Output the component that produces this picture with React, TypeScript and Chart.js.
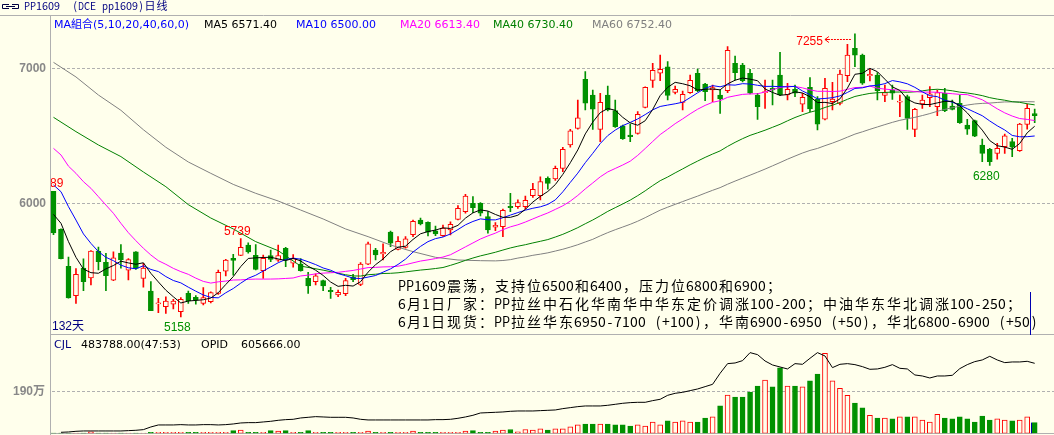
import React, { useEffect, useRef } from "react";
import { Chart, registerables } from "chart.js";

Chart.register(...registerables);

// ---------- data ----------
const opens = [
  6089, 5807, 5533, 5316, 5520, 5447, 5647, 5563, 5430, 5632,
  5505, 5640, 5444, 5350, 5255, 5234, 5252, 5197, 5333, 5303,
  5259, 5271, 5333, 5497, 5593, 5614, 5691, 5615, 5501, 5612,
  5578, 5667, 5556, 5550, 5444, 5420, 5427, 5355, 5321, 5330,
  5454, 5400, 5550, 5654, 5625, 5787, 5659, 5674, 5768, 5876,
  5859, 5797, 5760, 5802, 5881, 5938, 6000, 6000, 5901, 5824,
  5827, 5978, 5975, 5975, 6057, 6057, 6185, 6180, 6259, 6432,
  6555, 6918, 6802, 6548, 6802, 6686, 6573, 6506, 6518, 6711,
  6911, 6963, 7010, 6822, 6748, 6819, 6963, 6884, 6840, 6802,
  6834, 7037, 7024, 6963, 6802, 6820, 6851, 6950, 6802, 6844,
  6735, 6859, 6770, 6624, 6753, 6740, 6945, 7148, 7098, 6945,
  6950, 6800, 6839, 6750, 6790, 6548, 6736, 6783, 6716, 6815,
  6721, 6741, 6580, 6612, 6432, 6400, 6370, 6420, 6457, 6390,
  6585, 6665,
];
const highs = [
  6089, 5810, 5602, 5516, 5588, 5650, 5675, 5630, 5640, 5695,
  5590, 5642, 5556, 5420, 5296, 5308, 5289, 5301, 5350, 5316,
  5375, 5345, 5506, 5585, 5622, 5739, 5708, 5695, 5617, 5654,
  5691, 5674, 5620, 5590, 5489, 5477, 5432, 5378, 5358, 5444,
  5474, 5560, 5713, 5667, 5699, 5795, 5753, 5753, 5875, 5891,
  5862, 5832, 5839, 5862, 5983, 6066, 6049, 6005, 5938, 5857,
  5958, 6074, 6025, 6054, 6148, 6197, 6197, 6276, 6415, 6548,
  6765, 6975, 6839, 6815, 6869, 6765, 6580, 6587, 6679, 6862,
  7037, 7098, 7049, 6869, 6832, 6950, 6995, 6889, 6876, 6839,
  7160, 7091, 7037, 6992, 6815, 6913, 6913, 7118, 6889, 6876,
  6815, 6931, 6790, 6926, 6896, 6987, 7178, 7255, 7105, 6992,
  6968, 6876, 6876, 6802, 6802, 6703, 6802, 6864, 6839, 6852,
  6765, 6802, 6622, 6617, 6476, 6407, 6444, 6513, 6481, 6592,
  6735, 6698,
];
const lows = [
  5768, 5588, 5298, 5259, 5353, 5395, 5506, 5353, 5427, 5520,
  5432, 5510, 5378, 5205, 5190, 5185, 5217, 5158, 5259, 5252,
  5247, 5262, 5326, 5462, 5468, 5612, 5630, 5506, 5444, 5568,
  5570, 5531, 5526, 5498, 5333, 5395, 5353, 5296, 5308, 5316,
  5420, 5390, 5545, 5580, 5580, 5679, 5654, 5667, 5753, 5839,
  5758, 5760, 5755, 5765, 5876, 5926, 5931, 5906, 5778, 5797,
  5753, 5938, 5963, 5958, 6044, 6025, 6104, 6170, 6234, 6415,
  6550, 6691, 6548, 6457, 6684, 6563, 6474, 6457, 6513, 6706,
  6859, 6908, 6765, 6810, 6691, 6814, 6827, 6760, 6753, 6666,
  6820, 6913, 6900, 6810, 6622, 6703, 6728, 6797, 6765, 6790,
  6679, 6679, 6543, 6617, 6691, 6728, 6901, 7012, 6880, 6906,
  6765, 6753, 6770, 6642, 6548, 6494, 6703, 6716, 6649, 6679,
  6691, 6592, 6511, 6494, 6308, 6280, 6326, 6370, 6345, 6385,
  6550, 6597,
];
const closes = [
  5780, 5590, 5300, 5474, 5420, 5647, 5568, 5464, 5597, 5580,
  5583, 5518, 5520, 5205, 5262, 5276, 5276, 5289, 5278, 5284,
  5301, 5338, 5489, 5580, 5576, 5674, 5639, 5511, 5593, 5585,
  5612, 5580, 5590, 5501, 5388, 5462, 5388, 5345, 5341, 5427,
  5434, 5550, 5699, 5617, 5637, 5704, 5718, 5736, 5866, 5847,
  5787, 5773, 5817, 5844, 5963, 6054, 5968, 5926, 5802, 5837,
  5948, 5967, 6005, 6022, 6104, 6160, 6148, 6259, 6400, 6536,
  6634, 6741, 6698, 6748, 6691, 6568, 6479, 6494, 6659, 6859,
  6985, 6992, 6800, 6844, 6807, 6911, 6834, 6827, 6857, 6773,
  7133, 6968, 6908, 6815, 6716, 6827, 6840, 6802, 6844, 6815,
  6785, 6699, 6587, 6852, 6772, 6958, 7098, 7098, 6889, 6955,
  6834, 6820, 6815, 6756, 6629, 6696, 6765, 6810, 6820, 6686,
  6696, 6597, 6550, 6498, 6370, 6308, 6407, 6499, 6415, 6587,
  6703, 6650,
];
const volumes = [
  10000, 10000, 10000, 10000, 10000, 70000, 10000, 10000, 10000, 10000,
  10000, 10000, 10000, 45000, 45000, 45000, 45000, 45000, 45000, 45000,
  45000, 45000, 45000, 45000, 120000, 150000, 45000, 45000, 45000, 120000,
  100000, 120000, 45000, 45000, 120000, 45000, 45000, 45000, 45000, 45000,
  45000, 45000, 100000, 45000, 45000, 45000, 45000, 45000, 100000, 45000,
  45000, 45000, 45000, 45000, 45000, 100000, 120000, 45000, 45000, 100000,
  150000, 170000, 70000, 170000, 150000, 200000, 150000, 200000, 200000, 290000,
  380000, 420000, 420000, 420000, 420000, 380000, 380000, 330000, 380000, 330000,
  510000, 380000, 560000, 510000, 560000, 510000, 510000, 690000, 740000, 1240000,
  1730000, 1640000, 1640000, 1870000, 2140000, 2410000, 2100000, 2960000, 2140000, 2140000,
  2100000, 2370000, 2680000, 3620000, 2370000, 2040000, 1720000, 1370000, 1150000, 810000,
  690000, 690000, 650000, 740000, 740000, 740000, 600000, 510000, 860000, 690000,
  650000, 740000, 650000, 510000, 780000, 600000, 650000, 600000, 560000, 600000,
  740000, 483788,
];
const openInterest = [
  null, 8650, 11500, 17300, 20200, 20200, 20200, 20200, 20200, 20200,
  23100, 26000, 31700, 54800, 72100, 72100, 72100, 75000, 72100, 72100,
  75000, 75000, 72100, 75000, 80800, 89400, 92300, 92300, 98100, 103800,
  112500, 118200, 121100, 132700, 138400, 144200, 141300, 138400, 138400, 138400,
  132700, 121100, 115400, 115400, 115400, 115400, 115400, 115400, 115400, 115400,
  115400, 118200, 118200, 121100, 129800, 141300, 155700, 175900, 178800, 181700,
  184600, 190300, 193200, 193200, 193200, 196100, 199000, 201900, 213400, 222100,
  230700, 236500, 236500, 236500, 242300, 250900, 259600, 265300, 268200, 268200,
  282600, 294200, 328800, 346100, 354700, 369200, 383600, 403800, 423900, 519100,
  602800, 608500, 628700, 697900, 680600, 625800, 591200, 573900, 556600, 602800,
  597000, 648900, 697900, 669100, 568100, 597000, 602800, 594100, 576800, 553700,
  556600, 571000, 594100, 562400, 556600, 504700, 496000, 478700, 496000, 496000,
  501800, 559500, 594100, 620100, 634500, 666200, 634500, 611400, 617200, 617200,
  622900, 605666,
];

// moving-average values at the left edge (need history before the window)
const ma5Lead = [5918, 5852, 5716, 5600]; // candles 0..3
const ma10Lead = [6136, 6086, 5975, 5876, 5773, 5703, 5642, 5600, 5575]; // candles 0..8
const ma20Lead = [6407, 6358, 6275, 6222, 6160, 6111, 6049, 5987, 5926, 5852, 5782, 5723, 5667, 5617, 5575, 5548, 5518, 5494, 5474]; // 0..18
const ma40Lead = [6637, 6531, 6432, 6346, 6232, 6123, 5990, 5891, 5810, 5716, 5649, 5535, 5505]; // every 3rd candle 0..36
const ma60Lead = [7044, 6936, 6802, 6689, 6545, 6415, 6306, 6222, 6140, 6074, 6017, 5950, 5884, 5810, 5753, 5691, 5642, 5600, 5580, 5575]; // every 3rd candle 0..57

const maHeaderValues = [6571.4, 6500.0, 6613.4, 6730.4, 6752.4];
const priceTicks = [6000, 7000];
const volumeTicks = [1900000];
const highMarks = [0, 25];
const lowMarks = [17, 125];
const arrowMark = 107;
const cjlRatio = "(47:53)";

const titleText = "PP1609  (DCE pp1609)日线";
const maTitle = "MA組合(5,10,20,40,60,0)";
const noteLines = [
  "PP1609震荡，支持位6500和6400，压力位6800和6900；",
  "6月1日厂家：PP拉丝中石化华南华中华东定价调涨100-200；中油华东华北调涨100-250；",
  "6月1日现货：PP拉丝华东6950-7100 (+100)，华南6900-6950 (+50)，华北6800-6900 (+50)",
];

const slotCount = 134;
const categories = Array.from({ length: slotCount }, (_, i) => `D${i + 1}`);

// ---------- styles ----------
const W = 1054;
const MAIN_H = 335;
const VOL_H = 100;
const BG = "#FFFFEC";
const RED = "#FF0000";
const GREEN = "#009100";
const FRAME = "#B0B0B0";
const PAD_LEFT = 49.75;
const SLOT = 7.49;

const maSpecs = [
  { n: 5, lead: ma5Lead, step: 1, color: "#000000", name: "MA5" },
  { n: 10, lead: ma10Lead, step: 1, color: "#0000FF", name: "MA10" },
  { n: 20, lead: ma20Lead, step: 1, color: "#FF00FF", name: "MA20" },
  { n: 40, lead: ma40Lead, step: 3, color: "#008000", name: "MA40" },
  { n: 60, lead: ma60Lead, step: 3, color: "#808080", name: "MA60" },
];

function buildMA(n: number, lead: number[], step: number) {
  return closes.map((_, i) => {
    if (i >= n - 1) {
      let s = 0;
      for (let k = i - n + 1; k <= i; k++) s += closes[k];
      return s / n;
    }
    if (i % step === 0 && lead[i / step] !== undefined) return lead[i / step];
    return null;
  });
}

const isUp = (i: number) => closes[i] >= opens[i];

function drawCells(ctx: CanvasRenderingContext2D, text: string, x: number, y: number, cell: number, fontPx: number, color: string) {
  ctx.font = `${fontPx}px 'Noto Sans CJK SC'`;
  ctx.fillStyle = color;
  ctx.textAlign = "center";
  ctx.textBaseline = "middle";
  let cx = x;
  for (const ch of text) {
    const w = ch.charCodeAt(0) > 255 ? cell * 2 : cell;
    if (ch !== " ") ctx.fillText(ch, cx + w / 2, y, w);
    cx += w;
  }
}

function hline(ctx: CanvasRenderingContext2D, x1: number, x2: number, y: number) {
  ctx.beginPath();
  ctx.moveTo(x1, y);
  ctx.lineTo(x2, y);
  ctx.stroke();
}
function vline(ctx: CanvasRenderingContext2D, x: number, y1: number, y2: number) {
  ctx.beginPath();
  ctx.moveTo(x, y1);
  ctx.lineTo(x, y2);
  ctx.stroke();
}

const mainPlugin = {
  id: "mainDecor",
  beforeDatasetsDraw(chart: any) {
    const { ctx } = chart;
    const yS = chart.scales.y;
    ctx.save();
    ctx.strokeStyle = FRAME;
    ctx.lineWidth = 1;
    hline(ctx, 0, W, 15.5);
    vline(ctx, 50.5, 15, MAIN_H);
    hline(ctx, 50, W, 334.5);
    ctx.setLineDash([3, 2]);
    for (const t of priceTicks) {
      const py = Math.round(yS.getPixelForValue(t)) + 0.5;
      hline(ctx, 52, W, py);
    }
    ctx.setLineDash([]);
    ctx.font = "bold 12px 'Liberation Sans'";
    ctx.fillStyle = "#888888";
    ctx.textAlign = "right";
    ctx.textBaseline = "middle";
    for (const t of priceTicks) {
      ctx.fillText(String(t), 46, Math.round(yS.getPixelForValue(t)) + 0.5);
    }
    ctx.restore();
  },
  afterDatasetsDraw(chart: any) {
    const { ctx, chartArea } = chart;
    const xS = chart.scales.x;
    const yS = chart.scales.y;
    ctx.save();

    // header row 1
    ctx.strokeStyle = "#000040";
    ctx.lineWidth = 1;
    ctx.beginPath();
    ctx.moveTo(9, 4.5); ctx.lineTo(2.5, 4.5); ctx.lineTo(2.5, 8.5); ctx.lineTo(9, 8.5);
    ctx.moveTo(12, 4.5); ctx.lineTo(18.5, 4.5); ctx.lineTo(18.5, 8.5); ctx.lineTo(12, 8.5);
    ctx.moveTo(6, 6.5); ctx.lineTo(15, 6.5);
    ctx.stroke();
    drawCells(ctx, titleText, 24, 6, 6, 11, "#000080");

    // header row 2
    ctx.font = "11px 'DejaVu Sans', 'Noto Sans CJK SC'";
    ctx.textAlign = "left";
    ctx.textBaseline = "alphabetic";
    ctx.fillStyle = "#0000FF";
    ctx.fillText(maTitle, 54, 28);
    const legendX = [204, 296, 400, 493, 592];
    maSpecs.forEach((m, k) => {
      ctx.fillStyle = m.color;
      ctx.fillText(`${m.name} ${maHeaderValues[k].toFixed(2)}`, legendX[k], 28);
    });

    // price marks (clipped to plot)
    ctx.save();
    ctx.beginPath();
    ctx.rect(51, chartArea.top, chartArea.right - 51, chartArea.bottom - chartArea.top);
    ctx.clip();
    ctx.font = "12px 'Liberation Sans'";
    ctx.textAlign = "center";
    ctx.textBaseline = "alphabetic";
    ctx.fillStyle = RED;
    for (const i of highMarks) {
      ctx.fillText(String(highs[i]), xS.getPixelForValue(i) - 3.5, yS.getPixelForValue(highs[i]) - 4);
    }
    ctx.fillStyle = GREEN;
    for (const i of lowMarks) {
      ctx.fillText(String(lows[i]), xS.getPixelForValue(i) - 3.5, yS.getPixelForValue(lows[i]) + 14);
    }
    const ax = xS.getPixelForValue(arrowMark);
    const ay = Math.round(yS.getPixelForValue(highs[arrowMark]) + 5.5) + 0.5;
    ctx.strokeStyle = RED;
    ctx.lineWidth = 1;
    ctx.setLineDash([2, 1]);
    hline(ctx, ax - 27, ax - 3, ay);
    ctx.setLineDash([]);
    ctx.beginPath();
    ctx.moveTo(ax - 26, ay - 3);
    ctx.lineTo(ax - 30, ay);
    ctx.lineTo(ax - 26, ay + 3);
    ctx.moveTo(ax - 30, ay);
    ctx.lineTo(ax - 26, ay);
    ctx.stroke();
    ctx.textAlign = "right";
    ctx.fillStyle = RED;
    ctx.fillText(String(highs[arrowMark]), ax - 32, ay + 5);

    // window length
    ctx.textAlign = "left";
    ctx.fillStyle = "#000080";
    ctx.font = "12px 'Liberation Sans', 'Noto Sans CJK SC'";
    ctx.fillText(`${closes.length}天`, 52, chartArea.bottom - 4);
    ctx.restore();

    // commentary
    ctx.save();
    ctx.beginPath();
    ctx.rect(51, 270, 1037 - 51, 64);
    ctx.clip();
    noteLines.forEach((line, k) => drawCells(ctx, line, 398, 285.5 + k * 18, 8, 14, "#000000"));
    ctx.restore();

    // text caret
    ctx.strokeStyle = "#0000B0";
    ctx.lineWidth = 1;
    vline(ctx, 1030.5, 292, MAIN_H);
    ctx.restore();
  },
};

const volPlugin = {
  id: "volDecor",
  beforeDatasetsDraw(chart: any) {
    const { ctx } = chart;
    const yS = chart.scales.y;
    ctx.save();
    ctx.strokeStyle = FRAME;
    ctx.lineWidth = 1;
    vline(ctx, 50.5, 0, VOL_H);
    hline(ctx, 50, W, 98.5);
    ctx.setLineDash([3, 2]);
    for (const t of volumeTicks) hline(ctx, 52, W, Math.round(yS.getPixelForValue(t)) + 0.5);
    ctx.setLineDash([]);
    ctx.font = "bold 12px 'Liberation Sans', 'Noto Sans CJK SC'";
    ctx.fillStyle = "#888888";
    ctx.textAlign = "right";
    ctx.textBaseline = "middle";
    for (const t of volumeTicks) ctx.fillText(`${t / 10000}万`, 45, Math.round(yS.getPixelForValue(t)) + 0.5);
    ctx.restore();
  },
  afterDatasetsDraw(chart: any) {
    const { ctx } = chart;
    ctx.save();
    ctx.font = "11px 'DejaVu Sans'";
    ctx.textAlign = "left";
    ctx.textBaseline = "alphabetic";
    ctx.fillStyle = "#000080";
    ctx.fillText("CJL", 54, 13);
    ctx.fillStyle = "#000000";
    const last = volumes.length - 1;
    ctx.fillText(`${volumes[last].toFixed(2)}${cjlRatio}`, 81, 13);
    ctx.fillText("OPID", 201, 13);
    ctx.fillText(`${(openInterest[last] as number).toFixed(2)}`, 241, 13);
    // highlight of the last bar
    const meta = chart.getDatasetMeta(1);
    const bar = meta.data[last];
    if (bar) {
      ctx.strokeStyle = "#0000B0";
      vline(ctx, Math.round(bar.x - bar.width / 2) - 0.5, bar.y, bar.base);
    }
    ctx.restore();
  },
};

export default function App() {
  const mainRef = useRef<HTMLCanvasElement>(null);
  const volRef = useRef<HTMLCanvasElement>(null);

  useEffect(() => {
    const padRight = W - PAD_LEFT - slotCount * SLOT;
    const maDatasets = maSpecs.map((m) => ({
      type: "line" as const,
      data: buildMA(m.n, m.lead, m.step),
      borderColor: m.color,
      borderWidth: 1,
      pointRadius: 0,
      spanGaps: true,
      tension: 0,
      fill: false,
    }));
    const idx = closes.map((_, i) => i);
    const main = new Chart(mainRef.current as HTMLCanvasElement, {
      type: "bar",
      data: {
        labels: categories,
        datasets: [
          ...maDatasets,
          {
            type: "bar",
            data: idx.map((i) => [opens[i], closes[i]]),
            backgroundColor: idx.map((i) => (isUp(i) ? BG : GREEN)),
            borderColor: idx.map((i) => (isUp(i) ? RED : GREEN)),
            borderWidth: 1,
            borderSkipped: false,
            barThickness: 5,
            minBarLength: 1,
            grouped: false,
          } as any,
          {
            type: "bar",
            data: idx.map((i) => [lows[i], highs[i]]),
            backgroundColor: idx.map((i) => (isUp(i) ? RED : GREEN)),
            borderWidth: 0,
            barThickness: 1,
            grouped: false,
          } as any,
        ],
      },
      options: {
        animation: false,
        responsive: false,
        devicePixelRatio: 1,
        events: [],
        layout: { padding: { left: PAD_LEFT, right: padRight, top: 15, bottom: 1 } },
        plugins: { legend: { display: false }, tooltip: { enabled: false } },
        scales: {
          x: { type: "category", display: false, offset: true, grid: { display: false } },
          y: { type: "linear", display: false, min: 5031.9, max: 7394.8 },
        },
      } as any,
      plugins: [mainPlugin],
    });

    const vol = new Chart(volRef.current as HTMLCanvasElement, {
      type: "bar",
      data: {
        labels: categories,
        datasets: [
          {
            type: "line",
            data: openInterest,
            yAxisID: "yOI",
            borderColor: "#000000",
            borderWidth: 1,
            pointRadius: 0,
            tension: 0,
            fill: false,
          } as any,
          {
            type: "bar",
            data: volumes,
            yAxisID: "y",
            backgroundColor: idx.map((i) => (isUp(i) ? BG : GREEN)),
            borderColor: idx.map((i) => (isUp(i) ? RED : GREEN)),
            borderWidth: 1,
            borderSkipped: false,
            barThickness: 5,
            grouped: false,
          } as any,
        ],
      },
      options: {
        animation: false,
        responsive: false,
        devicePixelRatio: 1,
        events: [],
        layout: { padding: { left: PAD_LEFT, right: padRight, top: 0, bottom: 1.7 } },
        plugins: { legend: { display: false }, tooltip: { enabled: false } },
        scales: {
          x: { type: "category", display: false, offset: true, grid: { display: false } },
          y: { type: "linear", display: false, min: 0, max: 4447000 },
          yOI: { type: "linear", display: false, min: 0, max: 850500 },
        },
      } as any,
      plugins: [volPlugin],
    });

    return () => {
      main.destroy();
      vol.destroy();
    };
  }, []);

  return (
    <div style={{ position: "absolute", left: 0, top: 0, width: W, height: MAIN_H + VOL_H, background: BG, overflow: "hidden" }}>
      <canvas ref={mainRef} width={W} height={MAIN_H} style={{ position: "absolute", left: 0, top: 0 }} />
      <canvas ref={volRef} width={W} height={VOL_H} style={{ position: "absolute", left: 0, top: MAIN_H }} />
    </div>
  );
}
